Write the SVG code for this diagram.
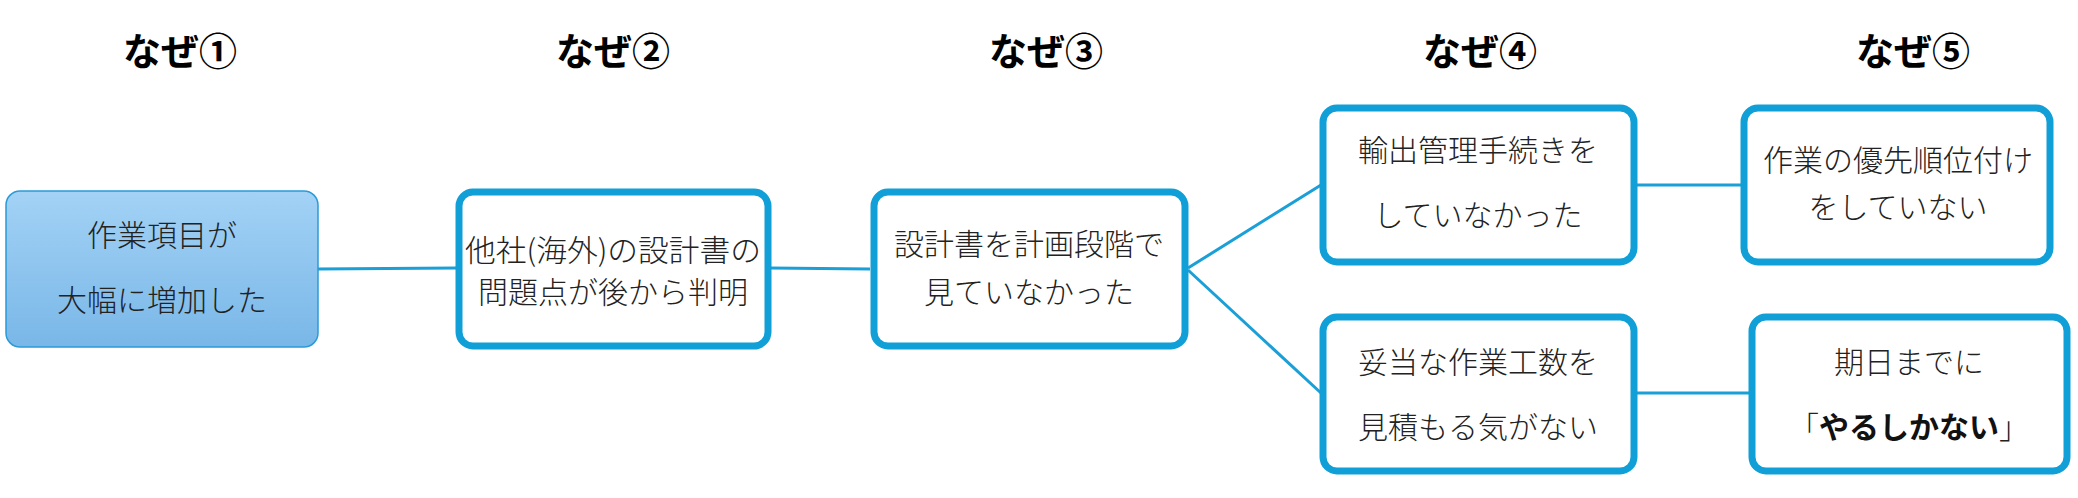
<svg xmlns="http://www.w3.org/2000/svg" width="2078" height="498" viewBox="0 0 2078 498">
<defs>
<linearGradient id="g1" x1="0" y1="0" x2="0" y2="1">
<stop offset="0" stop-color="#a3d2f5"/>
<stop offset="1" stop-color="#79b7e8"/>
</linearGradient>
<style>
.hdr{font-family:"Noto Sans CJK JP","Noto Sans",sans-serif;font-weight:bold;font-size:38px;fill:#000;text-anchor:middle;dominant-baseline:central}
.t{font-family:"Noto Sans CJK JP","Noto Sans",sans-serif;font-size:30px;fill:#222;text-anchor:middle;dominant-baseline:central;font-weight:300}
.b{font-weight:bold;fill:#111}
.box{fill:#fff;stroke:#109fd6;stroke-width:7}
.c{stroke:#1a9fd6;stroke-width:3;fill:none}
</style>
</defs>
<rect width="2078" height="498" fill="#fff"/>
<g id="headers">
<text class="hdr" x="180" y="48">なぜ①</text>
<text class="hdr" x="613" y="48">なぜ②</text>
<text class="hdr" x="1046" y="48">なぜ③</text>
<text class="hdr" x="1480" y="48">なぜ④</text>
<text class="hdr" x="1913" y="48">なぜ⑤</text>
</g>
<g id="connectors">
<line class="c" x1="318" y1="269" x2="456" y2="268"/>
<line class="c" x1="770" y1="268" x2="870" y2="269"/>
<line class="c" x1="1188" y1="268" x2="1321" y2="185"/>
<line class="c" x1="1188" y1="270" x2="1321" y2="393"/>
<line class="c" x1="1636" y1="185" x2="1741" y2="185"/>
<line class="c" x1="1636" y1="393" x2="1749" y2="393"/>
</g>
<g id="n1">
<rect x="6" y="191" width="312" height="156" rx="14" fill="url(#g1)" stroke="#2a9bd8" stroke-width="1.5"/>
<text class="t" x="162" y="233">作業項目が</text>
<text class="t" x="162" y="298">大幅に増加した</text>
</g>
<g id="n2">
<rect class="box" x="459" y="192" width="309" height="154" rx="14"/>
<text class="t" x="613" y="248" textLength="296" lengthAdjust="spacingAndGlyphs">他社(海外)の設計書の</text>
<text class="t" x="613" y="290">問題点が後から判明</text>
</g>
<g id="n3">
<rect class="box" x="874" y="192" width="311" height="154" rx="14"/>
<text class="t" x="1029" y="242">設計書を計画段階で</text>
<text class="t" x="1029" y="290">見ていなかった</text>
</g>
<g id="n4a">
<rect class="box" x="1323" y="108" width="311" height="154" rx="14"/>
<text class="t" x="1478" y="148">輸出管理手続きを</text>
<text class="t" x="1478" y="213">していなかった</text>
</g>
<g id="n4b">
<rect class="box" x="1323" y="317" width="311" height="154" rx="14"/>
<text class="t" x="1478" y="360">妥当な作業工数を</text>
<text class="t" x="1478" y="425">見積もる気がない</text>
</g>
<g id="n5a">
<rect class="box" x="1744" y="108" width="306" height="154" rx="14"/>
<text class="t" x="1898" y="158">作業の優先順位付け</text>
<text class="t" x="1898" y="205">をしていない</text>
</g>
<g id="n5b">
<rect class="box" x="1752" y="317" width="315" height="154" rx="14"/>
<text class="t" x="1909" y="360">期日までに</text>
<text class="t" x="1909" y="425">「<tspan class="b">やるしかない</tspan>」</text>
</g>
</svg>
